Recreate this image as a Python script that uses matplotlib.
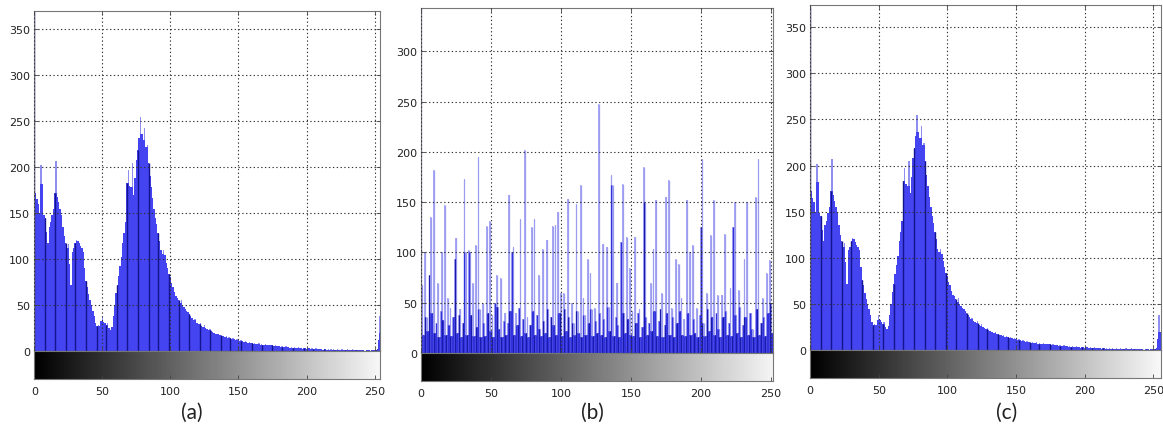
import numpy as np
import matplotlib
matplotlib.use("Agg")
import matplotlib.pyplot as plt

# ---------------- data ----------------
hist_a = [
    372, 172, 165, 160, 150, 202, 182, 148, 145, 130,
    118, 135, 140, 148, 155, 172, 207, 168, 162, 155,
    148, 135, 125, 118, 112, 116, 95, 72, 108, 112,
    118, 121, 120, 117, 114, 112, 108, 90, 76, 70,
    62, 55, 50, 44, 38, 30, 27, 28, 27, 33,
    38, 32, 30, 28, 30, 25, 23, 26, 38, 50,
    63, 72, 82, 92, 102, 118, 128, 140, 183, 197,
    180, 178, 205, 170, 188, 208, 219, 232, 255, 236,
    230, 243, 222, 224, 205, 190, 178, 166, 155, 145,
    138, 128, 120, 110, 106, 110, 104, 96, 90, 84,
    80, 74, 70, 64, 60, 58, 55, 52, 56, 50,
    48, 46, 44, 42, 40, 38, 36, 34, 35, 31,
    30, 29, 31, 27, 26, 28, 25, 24, 23, 24,
    22, 21, 20, 19, 18, 19, 17, 17, 16, 16,
    15, 16, 14, 15, 14, 13, 14, 13, 12, 13,
    12, 11, 12, 11, 10, 11, 10, 9, 10, 9,
    9, 8, 9, 8, 8, 9, 7, 8, 7, 7,
    8, 6, 7, 6, 6, 7, 5, 6, 5, 5,
    5, 4, 5, 4, 4, 5, 4, 4, 3, 4,
    3, 4, 3, 3, 4, 3, 3, 2, 3, 3,
    2, 3, 3, 2, 3, 2, 2, 3, 2, 2,
    2, 2, 1, 2, 2, 1, 2, 1, 2, 1,
    2, 1, 1, 2, 1, 1, 2, 1, 1, 1,
    2, 1, 1, 1, 2, 1, 1, 1, 1, 1,
    1, 1, 1, 0, 1, 1, 1, 0, 1, 1,
    1, 1, 2, 12, 38, 20,
]

hist_b = [
    345, 68, 18, 100, 36, 22, 78, 135, 40, 182,
    20, 30, 70, 16, 42, 100, 33, 147, 18, 55,
    28, 45, 17, 36, 93, 114, 20, 38, 44, 16,
    30, 173, 100, 18, 102, 100, 38, 70, 17, 107,
    26, 195, 44, 16, 50, 30, 17, 126, 40, 131,
    22, 38, 16, 50, 78, 46, 24, 75, 16, 32,
    40, 18, 30, 157, 42, 100, 105, 18, 40, 28,
    45, 133, 17, 34, 202, 20, 36, 16, 28, 125,
    42, 133, 18, 38, 78, 24, 17, 103, 32, 20,
    112, 44, 16, 36, 126, 28, 127, 18, 140, 40,
    60, 17, 60, 44, 22, 153, 36, 16, 50, 30,
    18, 148, 42, 20, 167, 16, 55, 38, 18, 93,
    30, 80, 44, 17, 45, 32, 20, 248, 40, 18,
    108, 34, 16, 105, 46, 22, 177, 167, 17, 36,
    70, 28, 16, 110, 168, 40, 20, 115, 34, 85,
    18, 42, 17, 115, 30, 40, 44, 16, 26, 185,
    150, 36, 18, 30, 70, 22, 103, 42, 152, 17,
    32, 44, 60, 16, 28, 155, 40, 172, 18, 45,
    36, 16, 93, 30, 88, 42, 55, 18, 34, 17,
    152, 40, 100, 18, 107, 34, 20, 45, 16, 38,
    125, 193, 30, 17, 60, 44, 22, 117, 36, 152,
    18, 40, 58, 24, 16, 58, 36, 118, 42, 18,
    30, 65, 17, 125, 150, 38, 20, 63, 46, 16,
    28, 93, 36, 150, 18, 40, 40, 24, 16, 155,
    44, 193, 18, 30, 55, 36, 17, 80, 40, 92,
    50, 20, 34, 16, 28, 30,
]

hist_c = list(hist_a)

yticks_ac = [0, 50, 100, 150, 200, 250, 300, 350]
yticks_b = [0, 50, 100, 150, 200, 250, 300]
xticks = [0, 50, 100, 150, 200, 250]
panel_labels = ["(a)", "(b)", "(c)"]

# ---------------- layout (pixels) ----------------
W, H = 1163, 427
fig = plt.figure(figsize=(W / 100, H / 100), dpi=100)


def px_axes(left, right, top, bottom):
    return fig.add_axes([left / W, 1 - bottom / H, (right - left) / W, (bottom - top) / H])


panels = [
    # hist, left, right, top, zero_y, cbar_bottom, xmax, ymax, yticks, label_x, style
    (hist_a, 34.3, 380, 12, 352, 380, 254, 370, yticks_ac, 192, "smooth"),
    (hist_b, 421, 773, 9, 354, 382, 251.5, 343, yticks_b, 592, "spiky"),
    (hist_c, 810, 1161, 6, 351, 379, 255.5, 374, yticks_ac, 1007, "smooth"),
]

edges = np.arange(257) - 0.5
bins = np.arange(256)
grid_kw = dict(color="#333333", linestyle=(0, (1.2, 2.2)), linewidth=0.8)

for k, (hist, left, right, top, zero, cbot, xmax, ymax, yt, lx, style) in enumerate(panels):
    h = np.asarray(hist, dtype=float)
    ax = px_axes(left, right, top, zero)
    left_n = np.concatenate([[h[0]], h[:-1]])
    right_n = np.concatenate([h[1:], [h[-1]]])
    if style == "smooth":
        ax.stairs(h, edges, fill=True, color="#8f8ff2", linewidth=0)
        main = np.minimum(h, np.maximum(left_n, right_n))
        ax.stairs(main, edges, fill=True, color="#4444f0", linewidth=0)
        idx = np.round(np.arange(0, 256, 7.6)).astype(int)
        ax.vlines(idx, 0, main[idx], color="#14148f", linewidth=1.0)
    else:
        ax.stairs(h, edges, fill=True, color="#a8a8f3", linewidth=0)
        ax.vlines(bins, 0, h, color="#9c9cf0", linewidth=0.9)
        solid = np.minimum(h, np.minimum(left_n, right_n))
        pair = np.minimum(h, right_n)
        ax.vlines(bins, 0, pair, color="#3232dc", linewidth=0.9)
        ax.stairs(solid, edges, fill=True, color="#3434e2", linewidth=0)
        ax.vlines(bins[::3], 0, pair[::3], color="#1a1aa8", linewidth=0.7)
    ax.set_xlim(0, xmax)
    ax.set_ylim(0, ymax)
    ax.set_xticks(xticks)
    ax.set_yticks(yt)
    ax.set_yticklabels([str(v) for v in yt], fontsize=8, color="#222222")
    ax.tick_params(axis="both", direction="in", length=3, width=0.6,
                   top=True, right=True, labelbottom=False, pad=3, colors="#444444")
    for lab in ax.get_yticklabels():
        lab.set_color("#222222")
    ax.grid(True, **grid_kw)
    ax.set_axisbelow(False)
    for sp in ax.spines.values():
        sp.set_color("#777777")
        sp.set_linewidth(0.8)

    cax = px_axes(left, right, zero, cbot)
    cax.imshow(np.arange(256)[None, :], cmap="gray", aspect="auto",
               extent=(-0.5, 255.5, 0, 1), vmin=0, vmax=262)
    cax.set_xlim(0, xmax)
    cax.set_ylim(0, 1)
    cax.set_yticks([])
    cax.set_xticks(xticks)
    cax.set_xticklabels([str(v) for v in xticks], fontsize=8, color="#222222")
    cax.tick_params(axis="x", direction="in", length=3, width=0.6, pad=5, colors="#444444")
    for lab in cax.get_xticklabels():
        lab.set_color("#222222")
    for sp in cax.spines.values():
        sp.set_color("#777777")
        sp.set_linewidth(0.8)

    fig.text(lx / W, 1 - 413 / H, panel_labels[k],
             ha="center", va="center", fontsize=15, family="Lato", color="#222222")

fig.savefig("out.png", dpi=100)
